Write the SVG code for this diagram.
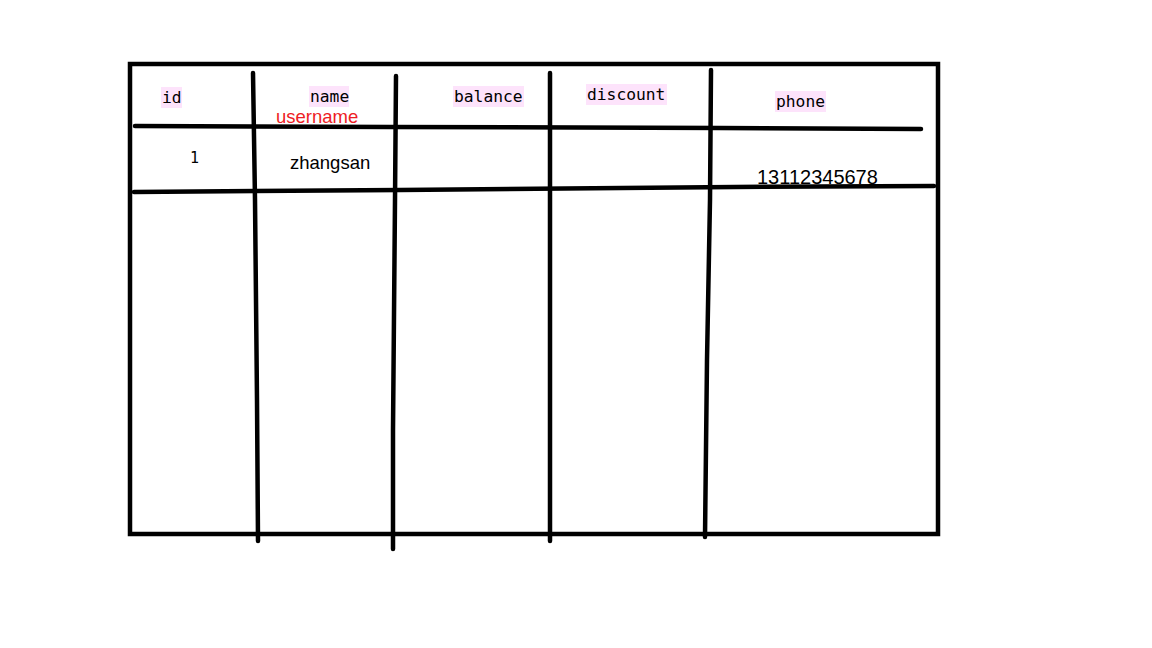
<svg xmlns="http://www.w3.org/2000/svg" width="1152" height="648" viewBox="0 0 1152 648">
<style>
.ln{stroke:#000;stroke-width:4.5;fill:none;stroke-linecap:round;stroke-linejoin:miter}
.hl{fill:#fde3fb}
.hd{font-family:"DejaVu Sans Mono","Liberation Mono",monospace;font-size:16.3px;fill:#000}
.sn{font-family:"Liberation Sans",Arial,sans-serif;font-size:18.5px;fill:#000}
.red{font-family:"Liberation Sans",Arial,sans-serif;font-size:18.5px;fill:#ee1c24}
</style>
<rect width="1152" height="648" fill="#fff"/>
<g id="connectors">
<rect class="ln" x="130" y="64" width="808" height="470"/>
<path class="ln" d="M253 73 L255 200 L257 400 L258 541"/>
<path class="ln" d="M396 76 L395 200 L393 430 L393 549"/>
<path class="ln" d="M550 73 L550 300 L550 541"/>
<path class="ln" d="M711 70 L710 200 L707 360 L705 537"/>
<path class="ln" d="M135 126 L390 127 L720 128 L921 129"/>
<path class="ln" d="M134 192 L400 190 L735 187 L934 186"/>
</g>
<g id="header-id"><rect class="hl" x="161" y="87" width="21" height="21"/><text class="hd" x="162" y="103">id</text></g>
<g id="header-name"><rect class="hl" x="309" y="86" width="40" height="21"/><text class="hd" x="310" y="102">name</text></g>
<g id="header-balance"><rect class="hl" x="453" y="86" width="71" height="21"/><text class="hd" x="454" y="102">balance</text></g>
<g id="header-discount"><rect class="hl" x="586" y="84" width="81" height="21"/><text class="hd" x="587" y="100">discount</text></g>
<g id="header-phone"><rect class="hl" x="775" y="91" width="51" height="21"/><text class="hd" x="776" y="107">phone</text></g>
<g id="label-username"><text class="red" x="276" y="123">username</text></g>
<g id="cell-1"><text class="hd" x="190" y="163" style="font-size:15px">1</text></g>
<g id="cell-zhangsan"><text class="sn" x="290" y="169">zhangsan</text></g>
<g id="cell-phone"><text class="sn" x="757" y="184" style="font-size:20px">13112345678</text></g>
</svg>
